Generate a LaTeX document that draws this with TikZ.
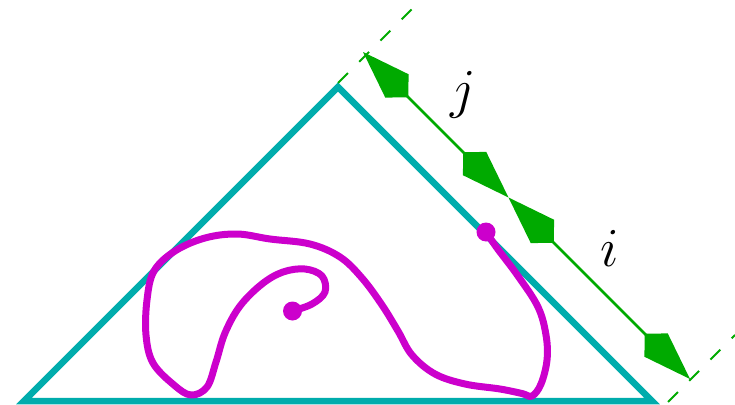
\RequirePackage{fix-cm}
\documentclass[tikz,border=0pt]{standalone}
\usetikzlibrary{arrows.meta}
\definecolor{tealc}{RGB}{0,172,172}
\definecolor{greenc}{RGB}{0,170,0}
\definecolor{magc}{RGB}{204,0,204}
\begin{document}
\begin{tikzpicture}[x=1pt,y=-1pt,
  tri/.style={draw=tealc,line width=6.5pt,line join=miter},
  dimline/.style={draw=greenc,line width=2.8pt,line join=miter,
    {Kite[length=64pt,width=33pt,inset=16pt]}-{Kite[length=64pt,width=33pt,inset=16pt]}},
  ext/.style={draw=greenc,line width=2pt,dash pattern=on 14pt off 16pt},
  curve/.style={draw=magc,line width=7pt,line cap=round,line join=round},
  dot/.style={circle,fill=magc,inner sep=0pt,minimum size=19pt},
  lab/.style={inner sep=0pt,font=\fontsize{55}{60}\selectfont}]
\useasboundingbox (0,0) rectangle (735,404);

% triangle
\draw[tri] (24,401) -- (338,87) -- (652,401) -- cycle;

% extension (dashed) lines
\coordinate (e1a) at (338,83);
\coordinate (e1b) at (414,7);
\coordinate (e2a) at (668,402);
\coordinate (e2b) at (735,335);
\draw[ext] (e1a) -- (e1b);
\draw[ext] (e2a) -- (e2b);

% dimension arrows
\coordinate (jt) at (363,52);
\coordinate (m) at (508.5,197.5);
\coordinate (ib) at (690,379);
\draw[dimline] (jt) -- (m);
\draw[dimline] (m) -- (ib);

\node[lab] (lj) at (463,95) {$j$};
\node[lab] (li) at (610,248) {$i$};

% magenta curve
\draw[curve] plot[smooth,tension=0.6] coordinates {
 (292.5,311) (312,304) (325,292) (322,276) (305,269) (283,272) (262,284)
 (240,306) (225,333) (216,362) (207,387) (191,395) (174,385) (153,363)
 (146,335) (147,300) (154,271) (175,251) (205,238) (237,234) (270,239)
 (310,244) (340,257) (362,278) (382,305) (398,331) (412,355) (435,374)
 (465,384) (500,389) (522,393.5) (532,396) (541,384) (547,360) (546,335)
 (538,307) (518,276) (497,248) (486,232)};
\node[dot] (d1) at (292.5,311) {};
\node[dot] (d2) at (486,232) {};
\end{tikzpicture}
\end{document}
